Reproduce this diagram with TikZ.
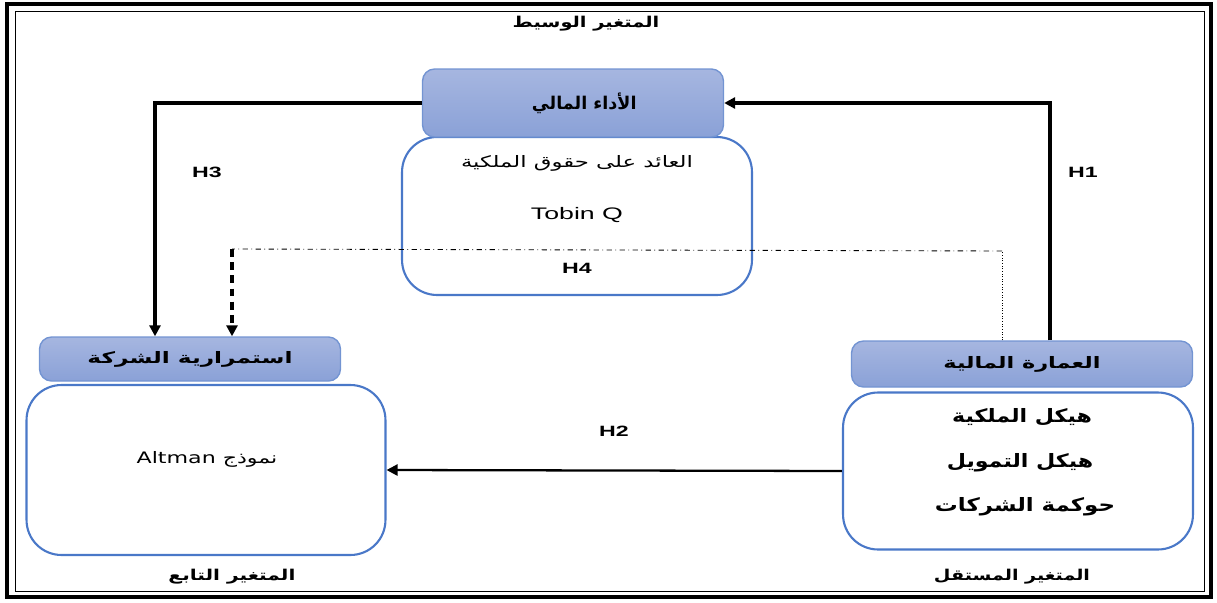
\documentclass[tikz,border=0pt]{standalone}
\usepackage{fontspec}
\usepackage{graphicx}
\setmainfont{Liberation Sans}
\newfontfamily\arabicfont[Script=Arabic]{DejaVu Sans}
\TeXXeTstate=1
\usepackage{tikz}
\usetikzlibrary{arrows.meta,calc}
\definecolor{hdrtop}{HTML}{A6B6E0}
\definecolor{hdrbot}{HTML}{8AA1D7}
\definecolor{hdrline}{HTML}{7394D2}
\definecolor{bodyline}{HTML}{4A78C8}
% arabic text, and text drawn wider than the font
\newcommand{\artxt}[1]{{\arabicfont\beginR #1\endR}}
\newcommand{\hstr}[2][1.4]{\scalebox{#1}[1]{#2}}
\begin{document}
\begin{tikzpicture}[x=0.02cm,y=-0.02cm,
	hdr/.style={draw=hdrline,line width=.8pt,rounded corners=.24cm,top color=hdrtop,bottom color=hdrbot,font=\fontsize{9}{11}\selectfont\bfseries},
	bodybox/.style={draw=bodyline,line width=1.2pt,rounded corners=.7cm,fill=white,align=center},
	lbl/.style={font=\fontsize{8.5}{10}\selectfont\bfseries},
	hyp/.style={font=\fontsize{8.5}{10}\selectfont\bfseries},
	conn/.style={line width=2pt,-{Triangle[length=2.2mm,width=2.2mm]}}]
\useasboundingbox (0,0) rectangle (1217,602);
%double frame around the picture
\draw[line width=2.6pt] (7,4) rectangle (1211,597);
\draw[line width=.5pt] (15,11) rectangle (1204,591);
%%boxes placed by hand: bodies first, headers on top
\node[bodybox,minimum width=7cm,minimum height=3.16cm] (perfbody) at (577,216){};
\node[hdr,minimum width=6.02cm,minimum height=1.36cm,font=\fontsize{10}{12}\selectfont\bfseries] (perfhdr) at (573,103){\hspace{.45cm}\artxt{الأداء المالي}};
\node[bodybox,minimum width=7.18cm,minimum height=3.4cm] (contbody) at (206,470){};
\node[hdr,minimum width=6.02cm,minimum height=.88cm] (conthdr) at (190,359){\hstr[1.47]{\artxt{استمرارية الشركة}}};
\node[bodybox,minimum width=7cm,minimum height=3.14cm] (archbody) at (1018,471){};
\node[hdr,minimum width=6.82cm,minimum height=.92cm] (archhdr) at (1022,364){\hstr[1.42]{\artxt{العمارة المالية}}};
%% texts inside the bodies
\node[font=\fontsize{9}{11}\selectfont] (roe) at (577,163){\hstr[1.44]{\artxt{العائد على حقوق الملكية}}};
\node[font=\fontsize{9.5}{11}\selectfont] (tobin) at (577,215){\hstr[1.6]{Tobin Q}};
\node[font=\fontsize{9}{11}\selectfont] (altman) at (207,459){\hstr{\artxt{نموذج \beginL Altman\endL}}};
\node[font=\fontsize{10.5}{12}\selectfont\bfseries] (own) at (1022,417){\hstr[1.2]{\artxt{هيكل الملكية}}};
\node[font=\fontsize{10.5}{12}\selectfont\bfseries] (fin) at (1020,463){\hstr[1.2]{\artxt{هيكل التمويل}}};
\node[font=\fontsize{10.5}{12}\selectfont\bfseries] (gov) at (1025,507){\hstr[1.24]{\artxt{حوكمة الشركات}}};
%% titles of the variables
\node[lbl] (medtitle) at (586,24){\hstr[1.3]{\artxt{المتغير الوسيط}}};
\node[lbl] (deptitle) at (232,577){\hstr[1.35]{\artxt{المتغير التابع}}};
\node[lbl] (indtitle) at (1012,577){\hstr[1.28]{\artxt{المتغير المستقل}}};
%% hypotheses
\node[hyp] (h1lbl) at (1083,172){\hstr[1.55]{H1}};
\node[hyp] (h2lbl) at (614,431){\hstr[1.55]{H2}};
\node[hyp] (h3lbl) at (207,172){\hstr[1.55]{H3}};
\node[hyp] (h4lbl) at (577,268){\hstr[1.55]{H4}};
\coordinate (h1) at (1050,102);
\coordinate (h3) at (155,102);
\coordinate (h4r) at (1002,251);
\coordinate (h4l) at (232,249);
\draw[conn] (archhdr.north -| h1) |- (perfhdr.east);
\draw[conn] (perfhdr.west) -| (h3 |- conthdr.north);
\draw[line width=1.3pt,-{Triangle[length=2.2mm,width=2.2mm]}] (archbody.west) -- (contbody.east);
\draw[densely dotted,line width=.5pt] (archhdr.north -| h4r) -- (h4r);
\draw[dash dot,line width=.5pt] (h4r) -- (h4l);
\draw[conn,dash pattern=on 4.5pt off 3pt] (h4l) -- (conthdr.north -| h4l);
\end{tikzpicture}
\end{document}
